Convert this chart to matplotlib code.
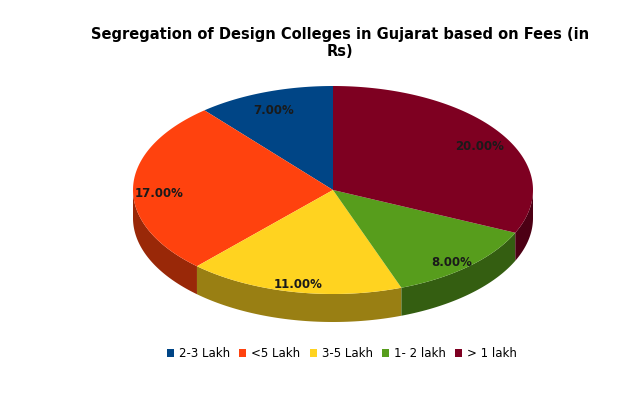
import numpy as np
import matplotlib.pyplot as plt
from matplotlib.patches import Polygon, Patch
import matplotlib.colors as mcolors

labels = ['2-3 Lakh', '<5 Lakh', '3-5 Lakh', '1- 2 lakh', '> 1 lakh']
values = [7, 17, 11, 8, 20]
colors = ['#004586', '#ff420e', '#ffd320', '#579d1c', '#7e0021']

cx, cy, rx, ry, depth = 333, 190, 200, 104, 28

fig = plt.figure(figsize=(6.39, 4.09), dpi=100)
ax = fig.add_axes([0, 0, 1, 1])
ax.set_xlim(0, 639)
ax.set_ylim(409, 0)
ax.axis('off')

fr = np.array(values) / sum(values)
starts = 90 + 360 * np.concatenate([[0], np.cumsum(fr)[:-1]])
ends = starts + 360 * fr

def pt(a, dz=0):
    r = np.radians(a)
    return cx + rx * np.cos(r), cy - ry * np.sin(r) + dz

# side walls (front half only: sin < 0 -> angles 180..360)
for s, e, c in zip(starts, ends, colors):
    dark = np.array(mcolors.to_rgb(c)) * 0.6
    for lo, hi in [(180, 360), (540, 720)]:
        a0, a1 = max(s, lo), min(e, hi)
        if a1 <= a0:
            continue
        angs = np.linspace(a0, a1, 60)
        top = [pt(a) for a in angs]
        bot = [pt(a, depth) for a in angs[::-1]]
        ax.add_patch(Polygon(top + bot, closed=True, fc=dark, ec='none'))

# top surface
for s, e, c in zip(starts, ends, colors):
    angs = np.linspace(s, e, 100)
    poly = [(cx, cy)] + [pt(a) for a in angs]
    ax.add_patch(Polygon(poly, closed=True, fc=c, ec='none'))

for s, e, v in zip(starts, ends, values):
    m = np.radians((s + e) / 2)
    x = cx + rx * 0.87 * np.cos(m)
    y = cy - ry * 0.87 * np.sin(m) + 6
    ax.text(x, y, f'{v:.2f}%', ha='center', va='center', fontsize=8.5,
            fontweight='bold', color='#1a1a1a')

ax.text(340, 43, 'Segregation of Design Colleges in Gujarat based on Fees (in\nRs)',
        ha='center', va='center', fontsize=10.5, fontweight='bold', linespacing=1.1)

handles = [Patch(fc=c, ec='none') for c in colors]
fig.legend(handles, labels, loc='center', bbox_to_anchor=(0.535, 0.135), ncol=5,
           frameon=False, fontsize=8.5, handlelength=0.6, handleheight=0.6,
           handletextpad=0.4, columnspacing=0.8)

fig.savefig('out.png', dpi=100)
